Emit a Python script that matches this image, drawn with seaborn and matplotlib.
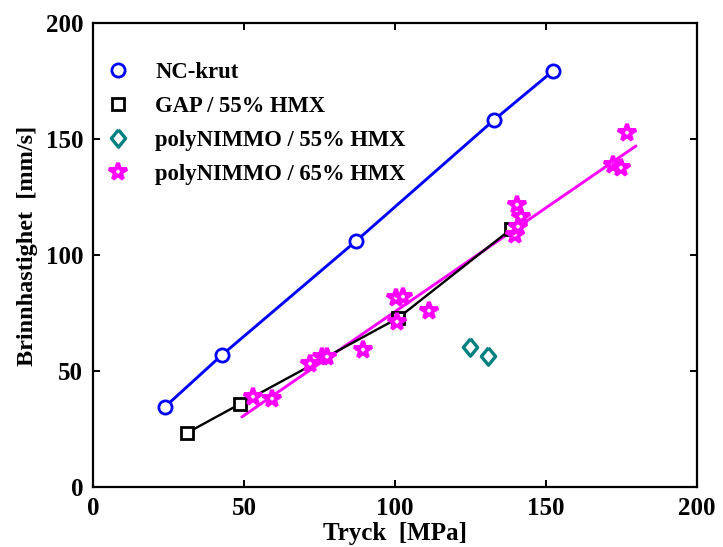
import matplotlib
matplotlib.use("Agg")
import matplotlib.pyplot as plt
from matplotlib.lines import Line2D
import seaborn as sns

# ---- data ----
nc_x = [23.8, 42.7, 87.1, 132.8, 152.3]
nc_y = [34.5, 56.9, 106.0, 158.2, 179.3]

gap_x = [31.1, 48.7, 101.0, 138.3]
gap_y = [23.3, 35.8, 72.8, 111.0]

pn55_x = [124.8, 130.8]
pn55_y = [60.3, 56.5]

pn65_x = [53.0, 59.3, 71.9, 75.8, 77.5, 89.4, 100.3, 102.6, 100.7, 111.3,
          140.4, 141.7, 139.7, 140.7, 172.2, 174.8, 176.8]
pn65_y = [39.0, 38.0, 53.0, 56.0, 56.0, 59.0, 81.5, 82.0, 71.0, 76.0,
          121.5, 116.5, 108.8, 112.0, 139.0, 137.5, 152.6]

fit_x = [49.3, 179.8]
fit_y = [30.2, 147.0]

labels = ["NC-krut", "GAP / 55% HMX", "polyNIMMO / 55% HMX", "polyNIMMO / 65% HMX"]
xticks = [0, 50, 100, 150, 200]
yticks = [0, 50, 100, 150, 200]

# ---- style ----
sns.set_theme(style="white")
plt.rcParams["font.family"] = ["Liberation Serif", "DejaVu Serif"]
plt.rcParams["font.weight"] = "bold"
plt.rcParams["text.color"] = "black"
plt.rcParams["axes.labelcolor"] = "black"
plt.rcParams["xtick.color"] = "black"
plt.rcParams["ytick.color"] = "black"

BLUE = "#0000ff"
BLACK = "#000000"
TEAL = "#008080"
MAG = "#ff00ff"

DIAMOND = [(0, 1), (0.82, 0), (0, -1), (-0.82, 0), (0, 1)]

fig = plt.figure(figsize=(7.23, 5.47), dpi=100)
ax = fig.add_axes([0.1286, 0.1097, 0.8354, 0.8483])

sns.lineplot(x=fit_x, y=fit_y, color=MAG, linewidth=2.1, ax=ax, estimator=None, sort=False)
sns.lineplot(x=gap_x, y=gap_y, color=BLACK, linewidth=1.7, marker="s", markersize=9,
             markerfacecolor="white", markeredgecolor=BLACK, markeredgewidth=2.0,
             ax=ax, estimator=None, sort=False)
sns.lineplot(x=nc_x, y=nc_y, color=BLUE, linewidth=2.1, marker="o", markersize=9.5,
             markerfacecolor="white", markeredgecolor=BLUE, markeredgewidth=2.0,
             ax=ax, estimator=None, sort=False)
sns.lineplot(x=pn55_x, y=pn55_y, linestyle="", marker=DIAMOND, markersize=12.5,
             markerfacecolor="white", markeredgecolor=TEAL, markeredgewidth=2.4,
             ax=ax, estimator=None, sort=False)
sns.lineplot(x=pn65_x, y=pn65_y, linestyle="", marker="*", markersize=13,
             markerfacecolor="white", markeredgecolor=MAG, markeredgewidth=2.8,
             ax=ax, estimator=None, sort=False)

ax.set_xlim(0, 200)
ax.set_ylim(0, 200)
ax.set_xticks(xticks)
ax.set_yticks(yticks)
ax.set_xticklabels([str(t) for t in xticks], fontsize=18, fontweight="bold")
ax.set_yticklabels([str(t) for t in yticks], fontsize=18, fontweight="bold")
ax.tick_params(direction="in", length=5, width=1.4, top=True, right=True,
               bottom=True, left=True, pad=7, colors=BLACK)
for s in ax.spines.values():
    s.set_visible(True)
    s.set_color(BLACK)
    s.set_linewidth(1.6)
ax.grid(False)

ax.set_xlabel("Tryck  [MPa]", fontsize=18, fontweight="bold", labelpad=2)
ax.set_ylabel("Brinnhastighet  [mm/s]", fontsize=17.5, fontweight="bold", labelpad=4)
ax.yaxis.set_label_coords(-0.091, 0.52)

handles = [
    Line2D([], [], linestyle="", marker="o", markersize=9.5, markerfacecolor="white",
           markeredgecolor=BLUE, markeredgewidth=2.0),
    Line2D([], [], linestyle="", marker="s", markersize=9, markerfacecolor="white",
           markeredgecolor=BLACK, markeredgewidth=2.0),
    Line2D([], [], linestyle="", marker=DIAMOND, markersize=12.5, markerfacecolor="white",
           markeredgecolor=TEAL, markeredgewidth=2.4),
    Line2D([], [], linestyle="", marker="*", markersize=13, markerfacecolor="white",
           markeredgecolor=MAG, markeredgewidth=2.8),
]
leg = ax.legend(handles, labels, loc="upper left", bbox_to_anchor=(0.0, 0.96),
                frameon=False, prop={"family": "Liberation Serif", "weight": "bold", "size": 16.3},
                handlelength=0.42, handletextpad=1.43, labelspacing=0.58,
                borderaxespad=0.5, borderpad=0.4)

fig.savefig("out.png", dpi=100)
